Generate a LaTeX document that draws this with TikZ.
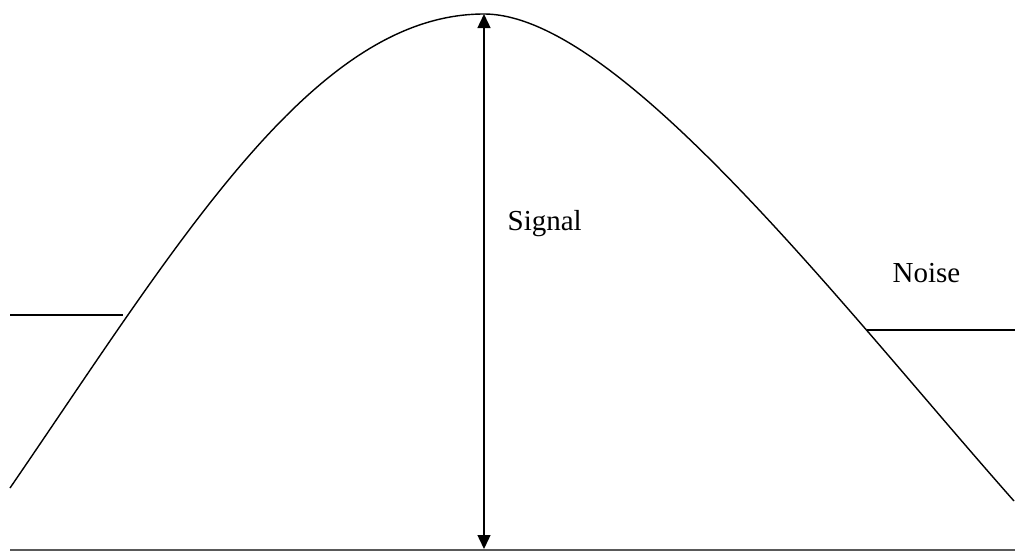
\documentclass[tikz,border=0pt]{standalone}
\usepackage{fontspec}
\setmainfont{Liberation Serif}
\usetikzlibrary{arrows.meta}

\begin{document}
\begin{tikzpicture}[x=0.02cm, y=-0.02cm, line width=0.8pt]
  \useasboundingbox (0,0) rectangle (1015,552);
  \tikzset{lbl/.style={font=\fontsize{16.5}{19}\selectfont, inner sep=0pt}}
  % key points
  \coordinate (base) at (484,549);
  \coordinate (peak) at (484,14);
  \coordinate (crossL) at (123,315);
  \coordinate (crossR) at (867,330);
  % baseline
  \draw[gray!70!black] (10,550) -- (1015,550);
  % signal curve
  \draw (10,488) .. controls (180,240) and (314,14) .. (peak)
        .. controls (619,14) and (844,309) .. (1014,501);
  % noise levels
  \draw (10,315) -- (crossL);
  \draw (crossR) -- (1015,330);
  % signal amplitude
  \draw[{Triangle[length=0.28cm,width=0.26cm]}-{Triangle[length=0.28cm,width=0.26cm]}]
      (base) -- (peak);
  \node[lbl, anchor=base west] (sig) at (507,230) {Signal};
  \node[lbl, anchor=base west] (noi) at (892,282) {Noise};
\end{tikzpicture}
\end{document}
